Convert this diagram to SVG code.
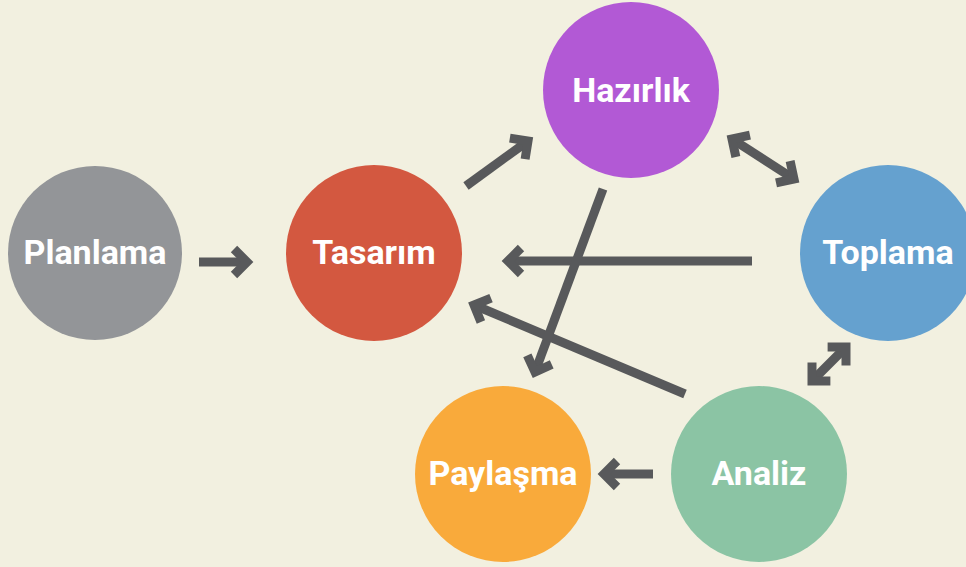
<svg xmlns="http://www.w3.org/2000/svg" width="966" height="567" viewBox="0 0 966 567">
<style>
.lbl{font-family:Roboto,"Liberation Sans",sans-serif;font-weight:700;font-size:34px;fill:#ffffff;text-anchor:middle}
.c{stroke:#58595b;stroke-width:9;fill:none}
</style>
<defs>
<marker id="ah" markerUnits="userSpaceOnUse" markerWidth="40" markerHeight="40" refX="0" refY="0" orient="auto-start-reverse" overflow="visible" viewBox="-20 -20 40 40">
<path d="M-13,-13 L0,0 L-13,13" fill="none" stroke="#58595b" stroke-width="9" stroke-linejoin="miter"/>
</marker>
</defs>
<rect width="966" height="567" fill="#f2f0e0"/>
<g id="planlama"><circle cx="95" cy="253" r="87" fill="#939598"/><text class="lbl" x="95" y="264">Planlama</text></g>
<g id="tasarim"><circle cx="374" cy="253" r="88" fill="#d35840"/><text class="lbl" x="374" y="264">Tasarım</text></g>
<g id="hazirlik"><circle cx="631" cy="90" r="88" fill="#b259d5"/><text class="lbl" x="631" y="102">Hazırlık</text></g>
<g id="toplama"><circle cx="888" cy="253" r="88" fill="#65a1cf"/><text class="lbl" x="888" y="264">Toplama</text></g>
<g id="paylasma"><circle cx="503" cy="474" r="88" fill="#f9aa3b"/><text class="lbl" x="503" y="485">Paylaşma</text></g>
<g id="analiz"><circle cx="759" cy="474" r="88" fill="#8bc4a4"/><text class="lbl" x="759" y="485">Analiz</text></g>
<g id="connectors">
<line class="c" x1="199" y1="262" x2="247" y2="262" marker-end="url(#ah)"/>
<line class="c" x1="466" y1="186" x2="528" y2="141" marker-end="url(#ah)"/>
<line class="c" x1="732" y1="139" x2="794" y2="179" marker-start="url(#ah)" marker-end="url(#ah)"/>
<line class="c" x1="752" y1="261" x2="508" y2="261" marker-end="url(#ah)"/>
<line class="c" x1="685" y1="394" x2="474" y2="305" marker-end="url(#ah)"/>
<line class="c" x1="603" y1="189" x2="535" y2="372" marker-end="url(#ah)"/>
<line class="c" x1="653" y1="474" x2="604" y2="474" marker-end="url(#ah)"/>
<line class="c" x1="812" y1="381" x2="846" y2="347" marker-start="url(#ah)" marker-end="url(#ah)"/>
</g>
</svg>
